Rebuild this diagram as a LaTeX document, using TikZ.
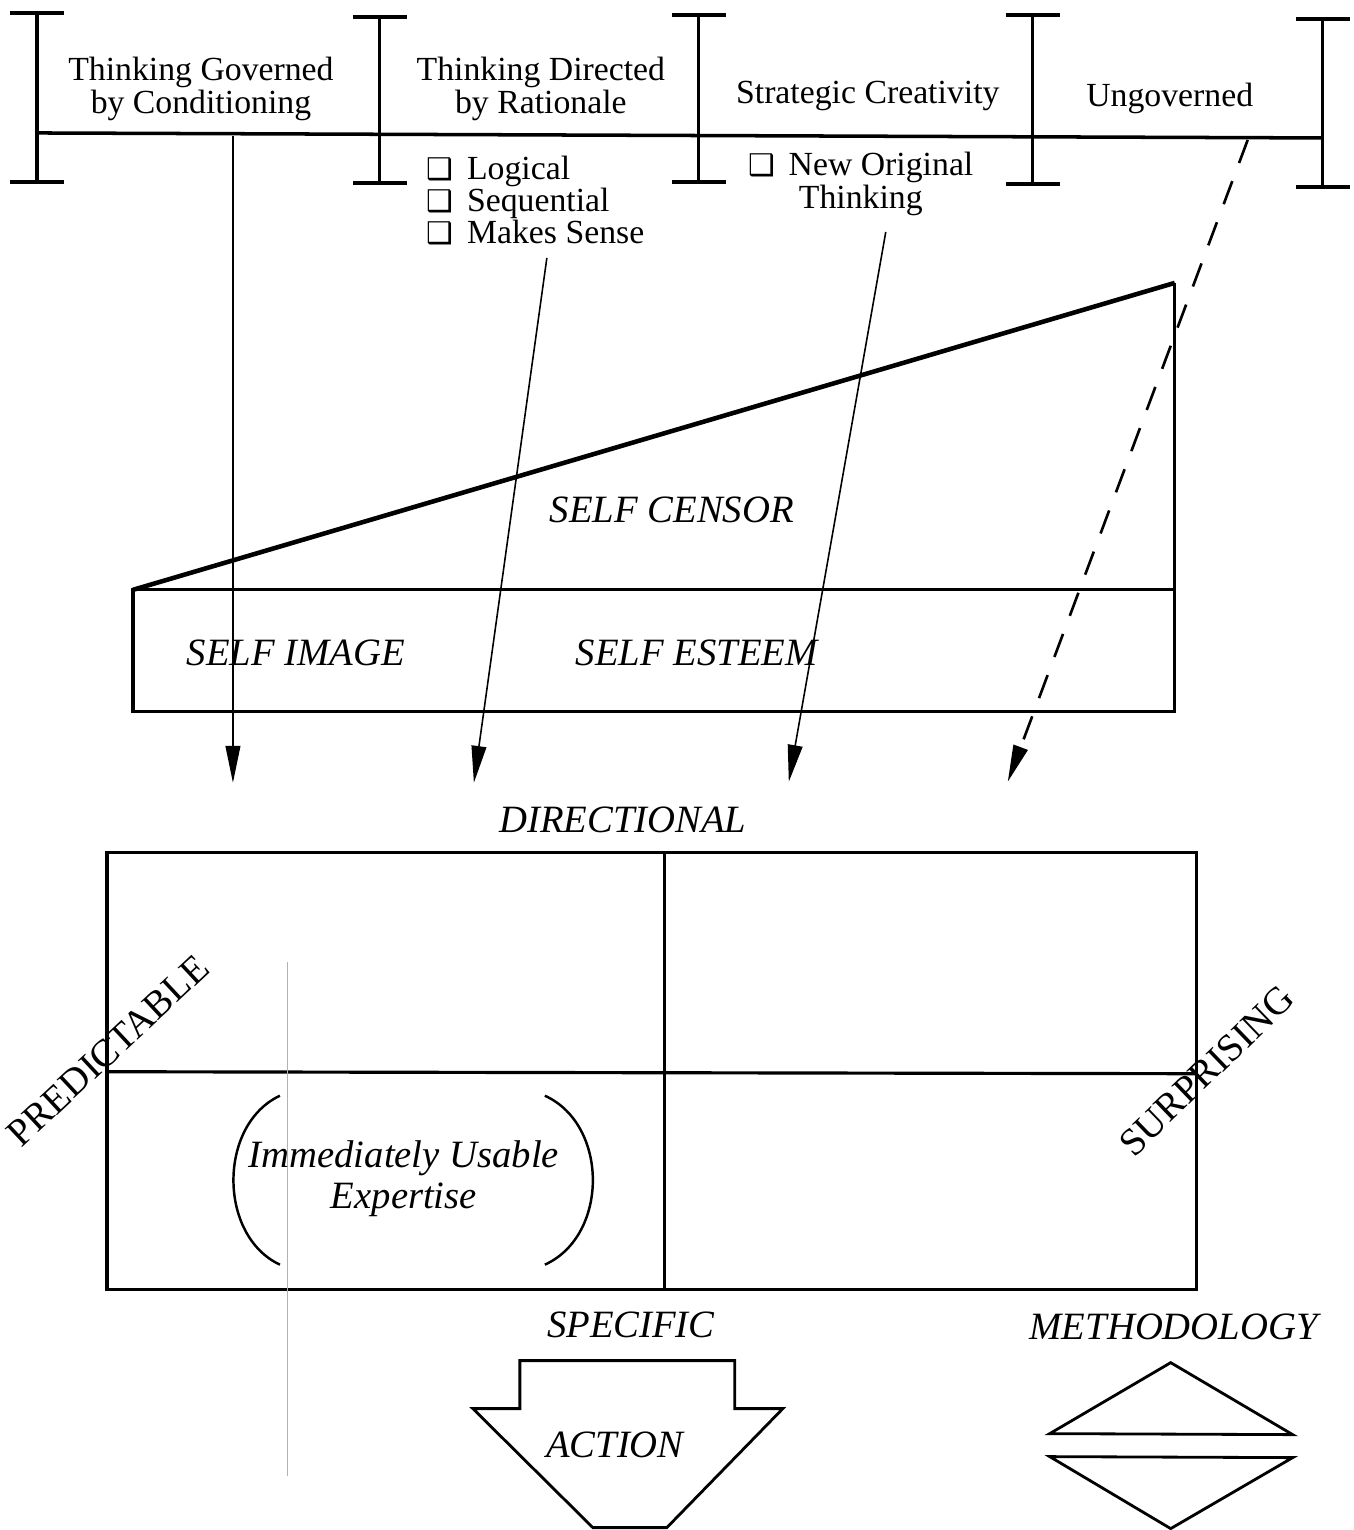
\documentclass[tikz,border=0pt]{standalone}
\usepackage{fontspec}
\setmainfont{Liberation Serif}
\newfontfamily\symfont{DejaVu Sans}
\usetikzlibrary{arrows.meta}
\newcommand{\cb}{{\symfont\fontsize{8.5}{8.5}\selectfont ❑}\hspace{1.5pt}}
\begin{document}
\begin{tikzpicture}[x=0.01cm,y=-0.01cm,
  topbar/.style={line width=1pt},
  ibeamcap/.style={line width=1.3pt},
  heavy/.style={line width=1.3pt},
  frame/.style={line width=0.9pt},
  thinarrow/.style={line width=0.45pt,-{Triangle[length=10.5pt,width=4.2pt]}},
  dasharrow/.style={line width=0.75pt,dash pattern=on 7pt off 5.5pt,-{Triangle[length=10.5pt,width=4.2pt]}},
  toplabel/.style={font=\fontsize{9.6}{9.2}\selectfont, align=center, inner sep=0pt},
  listlabel/.style={font=\fontsize{9.6}{9.2}\selectfont, inner sep=0pt},
  biglabel/.style={font=\fontsize{11}{11.4}\selectfont\itshape, inner sep=0pt, align=center},
  sidelabel/.style={font=\fontsize{11}{11}\selectfont, inner sep=0pt},
  shapeline/.style={line width=0.8pt}
]
\fill[white] (0,0) rectangle (1354,1530);

% top scale
\draw[topbar] (37,133) -- (1323,138);
\foreach \x/\t/\b in {37/13/182, 380/17/183, 699/15/182, 1033/15/184, 1323/19/187} {
  \draw[frame] (\x,\t) -- (\x,\b);
  \draw[ibeamcap] (\x-27,\t) -- (\x+27,\t);
  \draw[ibeamcap] (\x-27,\b) -- (\x+27,\b);
}
\node[toplabel] (t1) at (201,89) {Thinking Governed\\by Conditioning};
\node[toplabel] (t2) at (541,89) {Thinking Directed\\by Rationale};
\node[toplabel] (t3) at (868,96) {Strategic Creativity};
\node[toplabel] (t4) at (1170,98) {Ungoverned};
\node[listlabel, align=left, anchor=north west] (l1) at (426,155) {\cb\ Logical\\\cb\ Sequential\\\cb\ Makes Sense};
\node[listlabel, align=center] (l2) at (861,184) {\cb\ New Original\\Thinking};

% self censor wedge and box
\coordinate (wl) at (133,590);
\coordinate (wr) at (1175,283);
\draw[heavy] (wl) -- (wr);
\draw[frame] (wr) -- (1175,593);
\draw[frame] (133,590) rectangle (1175,712);
\node[biglabel] (sc) at (672,510) {SELF CENSOR};
\node[biglabel] (si) at (296,653) {SELF IMAGE};
\node[biglabel] (se) at (697,653) {SELF ESTEEM};

% arrows
\coordinate (a1s) at (233,136);
\coordinate (a1e) at (233,783);
\coordinate (a2s) at (547,258);
\coordinate (a2e) at (474,783);
\coordinate (a3s) at (886,232);
\coordinate (a3e) at (789,782);
\coordinate (a4s) at (1248,140);
\coordinate (a4e) at (1008,782);
\draw[thinarrow] (a1s) -- (a1e);
\draw[thinarrow] (a2s) -- (a2e);
\draw[thinarrow] (a3s) -- (a3e);
\draw[dasharrow] (a4s) -- (a4e);

% quadrant
\node[biglabel] (dir) at (623,820) {DIRECTIONAL};
\draw[frame] (107,853) rectangle (1197,1290);
\draw[frame] (665,853) -- (665,1290);
\draw[frame] (107,1072) -- (1197,1074);
\draw[gray!60, line width=0.3pt] (288,962) -- (288,1476);
\node[sidelabel, rotate=43] (pred) at (108,1051) {PREDICTABLE};
\node[sidelabel, rotate=44] (surp) at (1207,1071) {SURPRISING};
\draw[line width=0.7pt] (280,1096) .. controls (218,1125) and (218,1236) .. (280,1265);
\draw[line width=0.7pt] (545,1096) .. controls (609,1125) and (609,1236) .. (545,1265);
\node[biglabel] (iue) at (404,1179) {Immediately Usable\\Expertise};

% bottom
\node[biglabel] (spec) at (631,1325) {SPECIFIC};
\node[biglabel] (meth) at (1174,1327) {METHODOLOGY};
\draw[shapeline] (520,1361) -- (735,1361) -- (735,1409) -- (783,1409) -- (667,1528) -- (593,1528) -- (473,1409) -- (520,1409) -- cycle;
\node[biglabel] (act) at (615,1445) {ACTION};
\draw[shapeline] (1050,1434) -- (1171,1363) -- (1293,1435) -- cycle;
\draw[shapeline] (1050,1457) -- (1293,1458) -- (1171,1529) -- cycle;
\end{tikzpicture}
\end{document}
